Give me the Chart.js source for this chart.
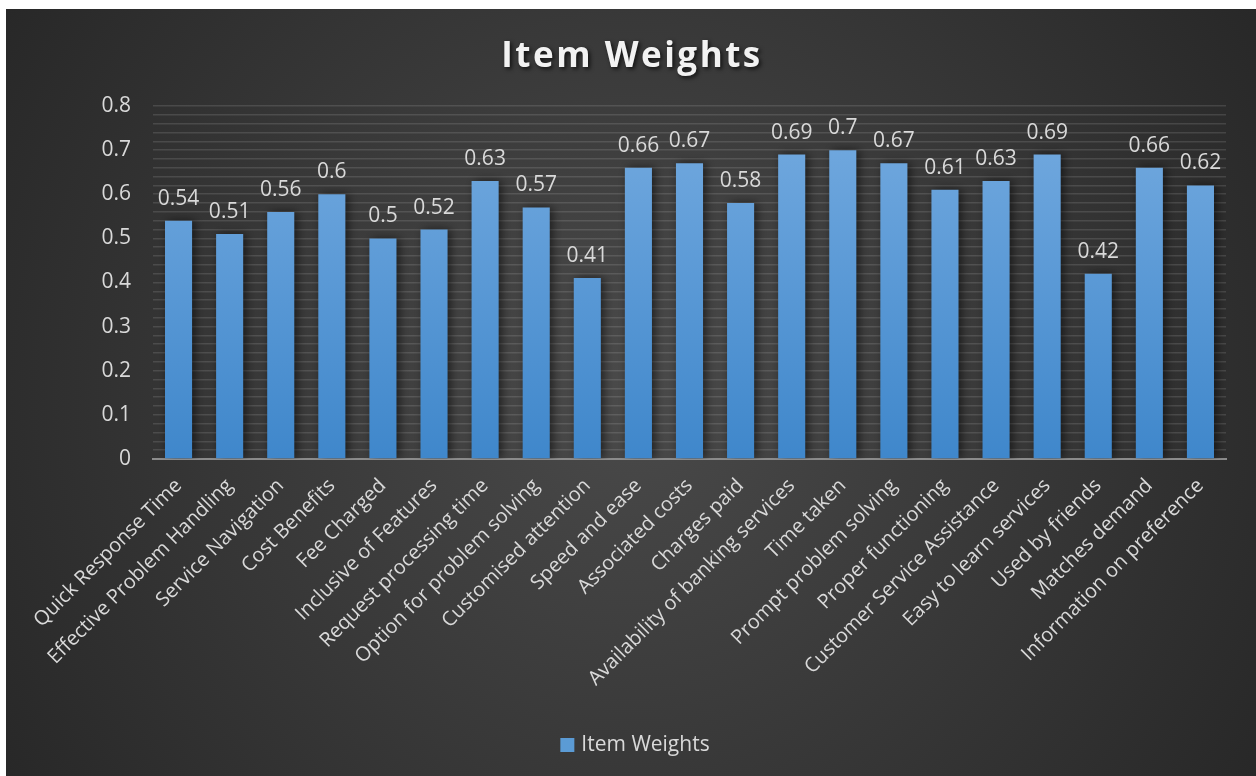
<!DOCTYPE html>
<html>
<head>
    <meta charset="utf-8">
    <script src="https://cdn.jsdelivr.net/npm/chart.js@4.4.1/dist/chart.umd.min.js"></script>
    <style>
        body { margin: 0; background: #ffffff; }
        #chart-container {
            position: absolute;
            left: 6px;
            top: 9px;
            width: 1250px;
            height: 767px;
        }
    </style>
</head>
<body>
    <div id="chart-container">
        <canvas id="itemChart"></canvas>
    </div>
    <script>
        const categories = [
            "Quick Response Time", "Effective Problem Handling", "Service Navigation", "Cost Benefits",
            "Fee Charged", "Inclusive of Features", "Request processing time", "Option for problem solving",
            "Customised attention", "Speed and ease", "Associated costs", "Charges paid",
            "Availability of banking services", "Time taken", "Prompt problem solving", "Proper functioning",
            "Customer Service Assistance", "Easy to learn services", "Used by friends", "Matches demand",
            "Information on preference"
        ];
        const weights = [0.54, 0.51, 0.56, 0.6, 0.5, 0.52, 0.63, 0.57, 0.41, 0.66, 0.67, 0.58,
            0.69, 0.7, 0.67, 0.61, 0.63, 0.69, 0.42, 0.66, 0.62];
        const yTicks = [0, 0.1, 0.2, 0.3, 0.4, 0.5, 0.6, 0.7, 0.8];

        const textColor = '#d9d9d9';
        const fontFamily = '"Open Sans", sans-serif';

        // background gradient, title and legend
        const backdrop = {
            id: 'backdrop',
            beforeDraw(chart) {
                const { ctx, width, height } = chart;
                ctx.save();
                const g = ctx.createRadialGradient(width / 2, height / 2, 0, width / 2, height / 2, width * 0.62);
                g.addColorStop(0, '#4a4a4a');
                g.addColorStop(1, '#262626');
                ctx.fillStyle = g;
                ctx.fillRect(0, 0, width, height);
                ctx.restore();
            },
            afterDraw(chart) {
                const ctx = chart.ctx;
                ctx.save();
                ctx.font = 'bold 35px ' + fontFamily;
                ctx.letterSpacing = '2.5px';
                ctx.textAlign = 'center';
                ctx.textBaseline = 'middle';
                ctx.shadowColor = 'rgba(0,0,0,0.7)';
                ctx.shadowBlur = 4;
                ctx.shadowOffsetX = 2;
                ctx.shadowOffsetY = 2;
                ctx.fillStyle = '#f2f2f2';
                ctx.fillText('Item Weights', chart.width / 2 + 1, 48);
                ctx.restore();

                // legend
                ctx.save();
                ctx.font = '21px ' + fontFamily;
                const label = chart.data.datasets[0].label;
                const tw = ctx.measureText(label).width;
                const total = 14 + 7 + tw;
                const lx = chart.width / 2 + 4 - total / 2;
                const ly = 736;
                ctx.fillStyle = '#5b9bd5';
                ctx.fillRect(lx, ly - 7, 14, 14);
                ctx.fillStyle = textColor;
                ctx.textBaseline = 'middle';
                ctx.textAlign = 'left';
                ctx.fillText(label, lx + 21, ly);
                ctx.restore();
            }
        };

        // shadows behind bars, values above them
        const barExtras = {
            id: 'barExtras',
            beforeDatasetsDraw(chart) {
                const ctx = chart.ctx;
                ctx.save();
                ctx.shadowColor = 'rgba(0,0,0,0.55)';
                ctx.shadowBlur = 10;
                ctx.shadowOffsetX = 3;
                ctx.shadowOffsetY = 0;
            },
            afterDatasetsDraw(chart) {
                const ctx = chart.ctx;
                ctx.restore();
                ctx.save();
                ctx.font = '21px ' + fontFamily;
                ctx.fillStyle = textColor;
                ctx.textAlign = 'center';
                ctx.textBaseline = 'alphabetic';
                const meta = chart.getDatasetMeta(0);
                meta.data.forEach((bar, i) => {
                    ctx.fillText(String(weights[i]), bar.x, bar.y - 16);
                });
                ctx.restore();
            }
        };

        const ctx = document.getElementById('itemChart').getContext('2d');
        const itemChart = new Chart(ctx, {
            type: 'bar',
            data: {
                labels: categories,
                datasets: [{
                    label: 'Item Weights',
                    data: weights,
                    backgroundColor: function (context) {
                        const area = context.chart.chartArea;
                        if (!area) return '#5b9bd5';
                        const g = context.chart.ctx.createLinearGradient(0, area.top, 0, area.bottom);
                        g.addColorStop(0, '#75abe0');
                        g.addColorStop(1, '#3f87cb');
                        return g;
                    },
                    borderWidth: 0,
                    barPercentage: 0.53,
                    categoryPercentage: 1
                }]
            },
            options: {
                responsive: true,
                maintainAspectRatio: false,
                animation: false,
                layout: {
                    padding: { top: 97, right: 30, left: 0, bottom: 49 }
                },
                plugins: {
                    legend: { display: false },
                    tooltip: { enabled: false }
                },
                scales: {
                    x: {
                        grid: { display: false },
                        border: { display: true, color: '#8c8c8c', width: 2 },
                        afterFit: function (scale) { scale.height = 268; },
                        ticks: {
                            color: textColor,
                            font: { size: 20, family: fontFamily },
                            minRotation: 45,
                            maxRotation: 45,
                            autoSkip: false,
                            padding: 7
                        }
                    },
                    y: {
                        min: 0,
                        max: 0.8,
                        border: { display: false },
                        afterFit: function (scale) { scale.width = 147; },
                        grid: {
                            color: 'rgba(255,255,255,0.12)',
                            lineWidth: 1.6,
                            drawTicks: false
                        },
                        ticks: {
                            stepSize: 0.02,
                            autoSkip: false,
                            color: textColor,
                            font: { size: 21, family: fontFamily },
                            padding: 22,
                            callback: function (value) {
                                const v = Math.round(value * 100) / 100;
                                return yTicks.some(t => Math.abs(t - v) < 1e-6) ? String(v) : '';
                            }
                        }
                    }
                }
            },
            plugins: [backdrop, barExtras]
        });
    </script>
</body>
</html>
